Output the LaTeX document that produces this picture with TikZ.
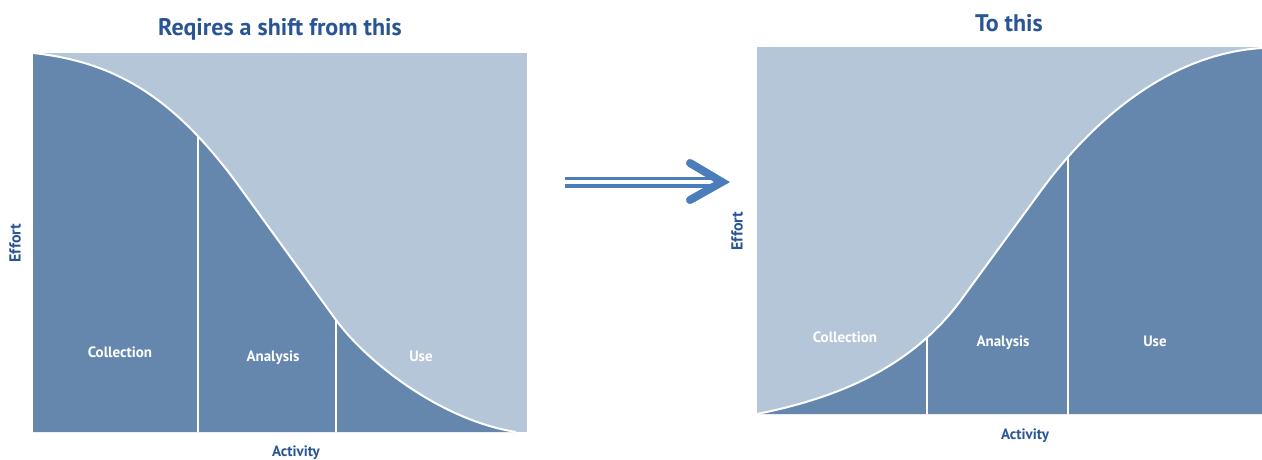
\documentclass[tikz,border=0pt]{standalone}
\usepackage{fontspec}
\setmainfont{PT Sans}
\definecolor{darkb}{HTML}{6587AE}
\definecolor{lightb}{HTML}{B5C6D9}
\definecolor{titleb}{HTML}{2A5595}
\definecolor{arrowb}{HTML}{4A7DBA}
\tikzset{
  ttl/.style={text=titleb, font=\bfseries\fontsize{24}{28}\selectfont, inner sep=0pt, anchor=base},
  seglabel/.style={text=white, font=\bfseries\fontsize{15}{17}\selectfont, inner sep=0pt, anchor=base},
  axlabel/.style={text=titleb, font=\bfseries\fontsize{15}{17}\selectfont, inner sep=0pt, anchor=base},
  effortlabel/.style={text=titleb, font=\bfseries\fontsize{16}{18}\selectfont, inner sep=0pt, rotate=90},
  divider/.style={draw=white, line width=2pt},
  curveline/.style={draw=white, line width=2pt},
}
\begin{document}
\begin{tikzpicture}[x=1pt,y=-1pt]
\useasboundingbox (0,0) rectangle (1262,459);
% ---------- left chart ----------
\def\leftcurve{(33,53) .. controls (118,62) and (175,100) .. (236,182) -- (336,320) .. controls (366,361) and (440,420) .. (516,432)}
\fill[lightb] (33,53) rectangle (527,432);
\fill[darkb] \leftcurve -- (33,432) -- cycle;
\begin{scope}
  \clip \leftcurve -- (33,432) -- cycle;
  \coordinate (l1t) at (198,60); \coordinate (l1b) at (198,440);
  \coordinate (l2t) at (336,60); \coordinate (l2b) at (336,440);
  \draw[divider] (l1t) -- (l1b);
  \draw[divider] (l2t) -- (l2b);
\end{scope}
\draw[curveline] \leftcurve;
\node[ttl] (t1) at (280,35) {Reqires a shift from this};
\node[seglabel] (c1) at (120,357) {Collection};
\node[seglabel] (a1) at (273,361) {Analysis};
\node[seglabel] (u1) at (421,361) {Use};
\node[axlabel] (x1) at (296,456) {Activity};
\node[effortlabel] (y1) at (15,243) {Effort};
% ---------- arrow ----------
\coordinate (as1) at (565,178.3); \coordinate (ae1) at (714,178.3);
\coordinate (as2) at (565,186); \coordinate (ae2) at (714,186);
\draw[arrowb, line width=3.3pt] (as1) -- (ae1);
\draw[arrowb, line width=3.3pt] (as2) -- (ae2);
\coordinate (aa) at (690,163); \coordinate (at) at (722,182); \coordinate (ab) at (690,200);
\draw[arrowb, line width=8pt, line cap=round, line join=miter] (aa) -- (at) -- (ab);
% ---------- right chart ----------
\def\rightcurve{(757,414) .. controls (837,398) and (911,368) .. (961,300) -- (1040,192) .. controls (1088,126) and (1165,54) .. (1262,48)}
\fill[lightb] (757,47) rectangle (1262,414);
\fill[darkb] \rightcurve -- (1262,414) -- cycle;
\begin{scope}
  \clip \rightcurve -- (1262,414) -- cycle;
  \coordinate (r1t) at (927,60); \coordinate (r1b) at (927,420);
  \coordinate (r2t) at (1068,60); \coordinate (r2b) at (1068,420);
  \draw[divider] (r1t) -- (r1b);
  \draw[divider] (r2t) -- (r2b);
\end{scope}
\draw[curveline] \rightcurve;
\node[ttl] (t2) at (1009,31) {To this};
\node[seglabel] (c2) at (845,342) {Collection};
\node[seglabel] (a2) at (1003,346) {Analysis};
\node[seglabel] (u2) at (1155,346) {Use};
\node[axlabel] (x2) at (1025,439) {Activity};
\node[effortlabel] (y2) at (737,231) {Effort};
\end{tikzpicture}
\end{document}
